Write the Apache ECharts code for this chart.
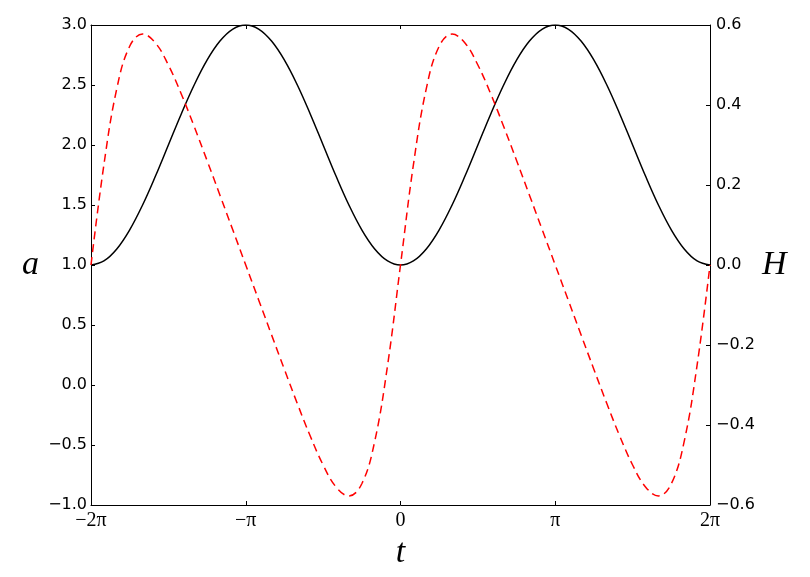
<!DOCTYPE html>
<html>
<head>
<meta charset="utf-8">
<script src="https://cdn.jsdelivr.net/npm/echarts@6/dist/echarts.min.js"></script>
<style>
  html, body { margin: 0; padding: 0; background: #fff; }
  #main { width: 810px; height: 577px; }
</style>
</head>
<body>
<div id="main"></div>
<script>
// t in degrees, every 15 deg from -2pi to 2pi
var tDeg = [-360, -345, -330, -315, -300, -285, -270, -255, -240, -225, -210, -195,
            -180, -165, -150, -135, -120, -105, -90, -75, -60, -45, -30, -15,
            0, 15, 30, 45, 60, 75, 90, 105, 120, 135, 150, 165,
            180, 195, 210, 225, 240, 255, 270, 285, 300, 315, 330, 345, 360];
// a(t), black solid, left axis
var aValues = [1.0, 1.0341, 1.1340, 1.2929, 1.5, 1.7412, 2.0, 2.2588, 2.5, 2.7071, 2.8660, 2.9659,
               3.0, 2.9659, 2.8660, 2.7071, 2.5, 2.2588, 2.0, 1.7412, 1.5, 1.2929, 1.1340, 1.0341,
               1.0, 1.0341, 1.1340, 1.2929, 1.5, 1.7412, 2.0, 2.2588, 2.5, 2.7071, 2.8660, 2.9659,
               3.0, 2.9659, 2.8660, 2.7071, 2.5, 2.2588, 2.0, 1.7412, 1.5, 1.2929, 1.1340, 1.0341, 1.0];
// H(t), red dashed, right axis
var hValues = [0, 0.2503, 0.4409, 0.5469, 0.5774, 0.5548, 0.5, 0.4276, 0.3464, 0.2612, 0.1745, 0.0873,
               0, -0.0873, -0.1745, -0.2612, -0.3464, -0.4276, -0.5, -0.5548, -0.5774, -0.5469, -0.4409, -0.2503,
               0, 0.2503, 0.4409, 0.5469, 0.5774, 0.5548, 0.5, 0.4276, 0.3464, 0.2612, 0.1745, 0.0873,
               0, -0.0873, -0.1745, -0.2612, -0.3464, -0.4276, -0.5, -0.5548, -0.5774, -0.5469, -0.4409, -0.2503, 0];
var xTickLabels = ['\u22122\u03c0', '\u2212\u03c0', '0', '\u03c0', '2\u03c0'];

var myChart = echarts.init(document.getElementById('main'));

var numFmt = function (v) {
    return v.toFixed(1).replace('-', '\u2212');
};
var tickStyle = { fontSize: 16, color: '#000', fontFamily: 'DejaVu Sans' };
var nameStyle = { fontSize: 34, fontStyle: 'italic', fontFamily: 'Liberation Serif', color: '#000' };
var lineStyle = { color: '#000', width: 1 };

var option = {
    animation: false,
    backgroundColor: '#fff',
    grid: { left: 91, right: 100, top: 25, bottom: 72 },
    xAxis: [
        {
            type: 'value',
            min: -360, max: 360, interval: 180,
            position: 'bottom',
            name: 't',
            nameLocation: 'middle',
            nameGap: 22,
            nameTextStyle: nameStyle,
            axisLine: { show: true, onZero: false, lineStyle: lineStyle },
            axisTick: { show: true, inside: true, length: 4, lineStyle: lineStyle },
            axisLabel: {
                fontSize: 20, color: '#000', fontFamily: 'Liberation Serif', margin: 6,
                formatter: function (v) { return xTickLabels[Math.round(v / 180) + 2]; }
            },
            splitLine: { show: false }
        },
        {
            type: 'value',
            min: -360, max: 360, interval: 180,
            position: 'top',
            axisLine: { show: true, onZero: false, lineStyle: lineStyle },
            axisTick: { show: true, inside: true, length: 4, lineStyle: lineStyle },
            axisLabel: { show: false },
            splitLine: { show: false }
        }
    ],
    yAxis: [
        {
            type: 'value',
            min: -1, max: 3, interval: 0.5,
            position: 'left',
            name: 'a',
            nameLocation: 'middle',
            nameRotate: 0,
            nameGap: 52,
            nameTextStyle: nameStyle,
            axisLine: { show: true, onZero: false, lineStyle: lineStyle },
            axisTick: { show: true, inside: true, length: 4, lineStyle: lineStyle },
            axisLabel: Object.assign({ margin: 4, formatter: numFmt }, tickStyle),
            splitLine: { show: false }
        },
        {
            type: 'value',
            min: -0.6, max: 0.6, interval: 0.2,
            position: 'right',
            name: 'H',
            nameLocation: 'middle',
            nameRotate: 0,
            nameGap: 52,
            nameTextStyle: nameStyle,
            axisLine: { show: true, onZero: false, lineStyle: lineStyle },
            axisTick: { show: true, inside: true, length: 4, lineStyle: lineStyle },
            axisLabel: Object.assign({ margin: 6, formatter: numFmt }, tickStyle),
            splitLine: { show: false }
        }
    ],
    series: [
        {
            name: 'a',
            type: 'line',
            xAxisIndex: 0,
            yAxisIndex: 0,
            smooth: 0.4,
            showSymbol: false,
            lineStyle: { color: '#000', width: 1.5 },
            data: tDeg.map(function (t, i) { return [t, aValues[i]]; })
        },
        {
            name: 'H',
            type: 'line',
            xAxisIndex: 0,
            yAxisIndex: 1,
            smooth: 0.4,
            showSymbol: false,
            lineStyle: { color: '#ff0000', width: 1.5, type: [8, 5] },
            data: tDeg.map(function (t, i) { return [t, hValues[i]]; })
        }
    ]
};
myChart.setOption(option);
</script>
</body>
</html>
